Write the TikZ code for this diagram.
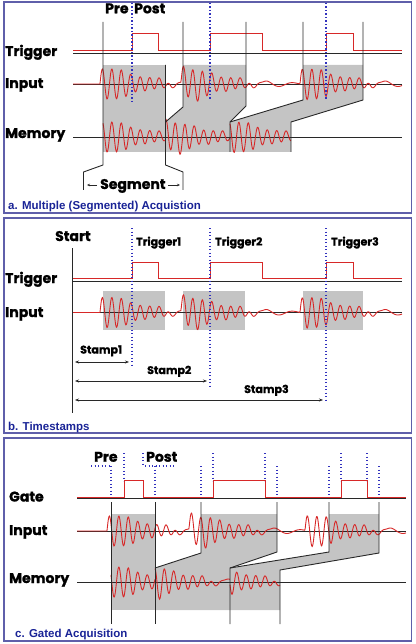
\documentclass[tikz,border=0pt]{standalone}
\usepackage{fontspec}
\setmainfont{Poppins}[BoldFeatures={FakeBold=1.3}]
\newfontfamily\capfont{Liberation Sans}
\usetikzlibrary{arrows.meta}
\definecolor{sigred}{RGB}{215,40,40}
\definecolor{lnc}{RGB}{40,40,40}
\definecolor{gfill}{RGB}{196,196,196}
\definecolor{panelc}{RGB}{95,95,170}
\definecolor{capblue}{RGB}{25,35,150}
\definecolor{dotblue}{RGB}{50,50,190}
\begin{document}
\begin{tikzpicture}[x=1pt,y=-1pt,
  declare function={
    wca(\t)=min(max(\t,0),100);
    wcb(\t)=min(max(\t,0),200);
    wenv(\t)=7.5*exp(-min(pow(wca(\t)/30,6),9))+7.5*exp(-min(pow(wca(\t)/68,6),9));
    wburst(\t)=(\t>0)*wenv(\t)*sin(38*\t);
    wtail(\t)=(\t>50)*3*exp(-min(pow((wcb(\t)-85)/30,2),9))*sin(13*(\t-50));
    wsa(\t)=wburst(\t-100)+wburst(\t-181)+wburst(\t-300)+wtail(\t-100)+wtail(\t-181)+wtail(\t-300);
    wsc(\t)=wburst(\t-107)+wburst(\t-189)+wburst(\t-305)+wtail(\t-107)+wtail(\t-189)+wtail(\t-305);
  },
  panel/.style={draw=panelc, line width=1.4pt},
  ln/.style={draw=lnc, line width=0.9pt},
  sig/.style={draw=sigred, line width=0.9pt},
  sigt/.style={draw=sigred, line width=1pt},
  dots/.style={draw=dotblue, line width=1.3pt, dash pattern=on 1.3pt off 2.2pt},
  lbl/.style={font=\bfseries\fontsize{14}{16}\selectfont, inner sep=0pt, anchor=base west},
  sml/.style={font=\bfseries\fontsize{11}{13}\selectfont, inner sep=0pt, anchor=base west},
  capt/.style={font=\capfont\bfseries\fontsize{11.5}{13}\selectfont, text=capblue, inner sep=0pt, anchor=base west},
  stamp/.style={draw=lnc, line width=0.7pt, {Stealth[length=4pt,width=3pt]}-{Stealth[length=4pt,width=3pt]}},
  segarr/.style={draw=lnc, line width=0.6pt, -{Stealth[length=3pt,width=2.5pt]}}
]
\useasboundingbox (0,0) rectangle (415,644);

% ================= panel a =================
\draw[panel] (4,2) rectangle (411.5,213);
\fill[gfill] (103,65) rectangle (165.5,152);
\fill[gfill] (183,65) -- (246,65) -- (246,106) -- (230,122) -- (230,152) -- (165.5,152) -- (165.5,122) -- (183,107) -- cycle;
\fill[gfill] (303,65) -- (363,65) -- (363,100) -- (291,122) -- (291,152) -- (230,152) -- (230,122) -- (303,100) -- cycle;
\draw[ln] (73,53) -- (402,53);
\draw[ln] (73,84) -- (402,84);
\draw[ln] (73,137) -- (402,137);
\draw[sigt] (73,51) -| (132,34) -| (158,51) -| (210,34) -| (262,51) -| (326,34) -| (353,51) -- (402,51);
\draw[sig] plot[domain=73:402, samples=660] (\x, {84 - wsa(\x)});
\draw[sig] plot[domain=103:165.5, samples=130] (\x, {137 - wsa(\x)});
\draw[sig] plot[domain=165.5:230, samples=130] (\x, {137 - wsa(\x+17.5)});
\draw[sig] plot[domain=230:291, samples=130] (\x, {137 - wsa(\x+73)});
\draw[ln] (103,22) -- (103,165) -- (83.5,172) -- (83.5,190);
\draw[ln] (165.5,65) -- (165.5,165) -- (183,172) -- (183,190);
\draw[ln] (183,22) -- (183,107) -- (165.5,122);
\draw[ln] (246,22) -- (246,106) -- (230,122) -- (230,152);
\draw[ln] (303,22) -- (303,100) -- (230,122);
\draw[ln] (363,22) -- (363,100) -- (291,122) -- (291,152);
\draw[dots] (132,3) -- (132,103);
\draw[dots] (210,3) -- (210,100);
\draw[dots] (326,3) -- (326,100);
\node[lbl] (preA) at (105,13.3) {Pre};
\node[lbl] (postA) at (134,13.3) {Post};
\node[lbl] (trigA) at (5,56) {Trigger};
\node[lbl] (inA) at (5,88) {Input};
\node[lbl] (memA) at (5,138) {Memory};
\node[lbl] (segA) at (100,189) {Segment};
\coordinate (sl0) at (97,185); \coordinate (sl1) at (87,185);
\coordinate (sr0) at (168,185); \coordinate (sr1) at (180,185);
\draw[segarr] (sl0) -- (sl1);
\draw[segarr] (sr0) -- (sr1);
\node[capt] (capA) at (8,210) {a. Multiple (Segmented) Acquistion};

% ================= panel b =================
\draw[panel] (4,218) rectangle (411.5,433);
\fill[gfill] (103,291) rectangle (165,330);
\fill[gfill] (183,291) rectangle (245,330);
\fill[gfill] (303,291) rectangle (363,330);
\draw[ln] (72,281) -- (402,281);
\draw[ln] (72,312.5) -- (402,312.5);
\draw[sigt] (73,278.5) -| (132,262) -| (158,278.5) -| (210,262) -| (262,278.5) -| (326,262) -| (353,278.5) -- (402,278.5);
\draw[sig] plot[domain=73:402, samples=660] (\x, {312.5 - wsa(\x)});
\draw[ln] (72,248) -- (72,413);
\draw[dots] (132,228) -- (132,365);
\draw[dots] (210,228) -- (210,387);
\draw[dots] (326,228) -- (326,400);
\coordinate (st0) at (75,362); \coordinate (st1) at (129,362);
\coordinate (su0) at (75,381); \coordinate (su1) at (207,381);
\coordinate (sv0) at (75,400); \coordinate (sv1) at (323,400);
\draw[stamp] (st0) -- (st1);
\draw[stamp] (su0) -- (su1);
\draw[stamp] (sv0) -- (sv1);
\node[lbl] (startB) at (55,241) {Start};
\node[lbl] (trigB) at (5,283) {Trigger};
\node[lbl] (inB) at (5,317) {Input};
\node[sml] (t1B) at (136,245.5) {Trigger1};
\node[sml] (t2B) at (215,245.5) {Trigger2};
\node[sml] (t3B) at (331,245.5) {Trigger3};
\node[sml] (s1B) at (80,353.5) {Stamp1};
\node[sml] (s2B) at (147,374) {Stamp2};
\node[sml] (s3B) at (244,393) {Stamp3};
\node[capt] (capB) at (8,430) {b. Timestamps};

% ================= panel c =================
\draw[panel] (4,438) rectangle (411.5,641);
\fill[gfill] (111,514) rectangle (155,610);
\fill[gfill] (201,514) -- (277,514) -- (277,552) -- (230,568) -- (230,610) -- (155,610) -- (155,568) -- (201,553) -- cycle;
\fill[gfill] (329,514) -- (379,514) -- (379,553) -- (280,570) -- (280,610) -- (230,610) -- (230,568) -- (329,552) -- cycle;
\draw[ln] (77,498.5) -- (406,498.5);
\draw[ln] (77,531) -- (406,531);
\draw[ln] (77,582) -- (406,582);
\draw[sigt] (77,497) -| (124,480) -| (143,497) -| (213,480) -| (265,497) -| (341,480) -| (367,497) -- (406,497);
\draw[sig] plot[domain=77:406, samples=660] (\x, {531 - wsc(\x)});
\draw[sig] plot[domain=111:155, samples=100] (\x, {582 - wsc(\x)});
\draw[sig] plot[domain=155:230, samples=150] (\x, {582 - wsc(\x+46)});
\draw[sig] plot[domain=230:280, samples=100] (\x, {582 - wsc(\x+99)});
\draw[ln] (111,502) -- (111,624);
\draw[ln] (155,502) -- (155,624);
\draw[ln] (201,502) -- (201,553) -- (155,568);
\draw[ln] (277,502) -- (277,552) -- (230,568) -- (230,624);
\draw[ln] (329,502) -- (329,552) -- (230,568);
\draw[ln] (379,502) -- (379,553) -- (280,570) -- (280,624);
\foreach \xx in {111,155,201,277,329,379} \draw[dots] (\xx,466) -- (\xx,497);
\foreach \xx in {124,213,265,341,367} \draw[dots] (\xx,453) -- (\xx,481);
\draw[dots] (143,453) -- (143,466);
\draw[dots] (91,466) -- (110,466);
\draw[dots] (145,466) -- (175,466);
\node[lbl] (preC) at (94,461.7) {Pre};
\node[lbl] (postC) at (146,461.7) {Post};
\node[lbl] (gateC) at (9,501.5) {Gate};
\node[lbl] (inC) at (9,535) {Input};
\node[lbl] (memC) at (9,583) {Memory};
\node[capt] (capC) at (15,637) {c. Gated Acquisition};
\end{tikzpicture}
\end{document}
